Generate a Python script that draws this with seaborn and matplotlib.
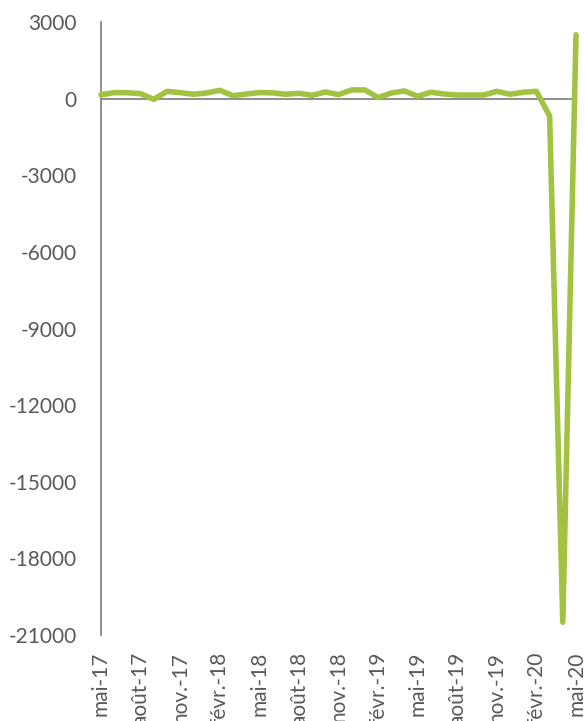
import matplotlib
matplotlib.use("Agg")
import matplotlib.pyplot as plt
import pandas as pd
import seaborn as sns

months = [
    "mai-17", "juin-17", "juil.-17", "août-17", "sept.-17", "oct.-17", "nov.-17", "déc.-17",
    "janv.-18", "févr.-18", "mars-18", "avr.-18", "mai-18", "juin-18", "juil.-18", "août-18",
    "sept.-18", "oct.-18", "nov.-18", "déc.-18", "janv.-19", "févr.-19", "mars-19", "avr.-19",
    "mai-19", "juin-19", "juil.-19", "août-19", "sept.-19", "oct.-19", "nov.-19", "déc.-19",
    "janv.-20", "févr.-20", "mars-20", "avr.-20", "mai-20",
]
values = [
    150, 235, 230, 195, -30, 285, 235, 170,
    220, 325, 115, 180, 235, 225, 170, 210,
    130, 260, 155, 340, 340, 40, 220, 300,
    90, 250, 180, 140, 140, 140, 285, 170,
    250, 285, -680, -20500, 2500,
]
y_ticks = [3000, 0, -3000, -6000, -9000, -12000, -15000, -18000, -21000]

df = pd.DataFrame({"pos": range(len(months)), "value": values})

sns.set_style("white")
plt.rcParams["font.family"] = ["Lato", "DejaVu Sans"]

fig = plt.figure(figsize=(5.85, 7.21), dpi=100)
ax = fig.add_axes([101 / 585, 1 - 635 / 721, 475 / 585, 613 / 721])

ax.axhline(0, color="#868686", lw=1.3, zorder=1)
sns.lineplot(data=df, x="pos", y="value", ax=ax, color="#A2C242", lw=4,
             clip_on=False, zorder=3)

ax.set_xlim(0, len(months) - 1)
ax.set_ylim(-21000, 3000)
ax.set_yticks(y_ticks)
ax.set_yticklabels([str(v) for v in y_ticks], fontsize=15, color="#595959")
tick_pos = list(range(0, len(months), 3))
ax.set_xticks(tick_pos)
ax.set_xticklabels([months[i] for i in tick_pos], rotation=90, fontsize=15,
                   color="#595959", va="top", ha="center")
ax.tick_params(axis="both", length=0)
ax.tick_params(axis="x", pad=12)
ax.tick_params(axis="y", pad=17.5)
ax.set_xlabel("")
ax.set_ylabel("")

for side in ["top", "right", "bottom"]:
    ax.spines[side].set_visible(False)
ax.spines["left"].set_color("#868686")
ax.spines["left"].set_linewidth(1.3)

fig.savefig("out.png", dpi=100)
